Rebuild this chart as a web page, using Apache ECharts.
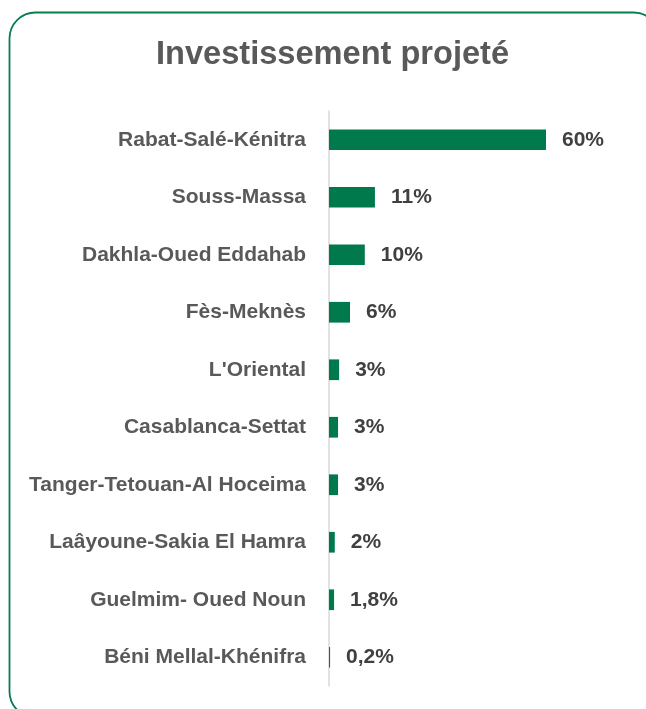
<!DOCTYPE html>
<html>
<head>
<meta charset="utf-8">
<style>
html,body{margin:0;padding:0;background:#fff;}
#chart{width:646px;height:709px;}
</style>
<script src="https://cdn.jsdelivr.net/npm/echarts@6/dist/echarts.min.js"></script>
</head>
<body>
<div id="chart"></div>
<script>
const titleText = 'Investissement projeté';
const categories = ['Rabat-Salé-Kénitra','Souss-Massa','Dakhla-Oued Eddahab','Fès-Meknès',"L'Oriental",'Casablanca-Settat','Tanger-Tetouan-Al Hoceima','Laâyoune-Sakia El Hamra','Guelmim- Oued Noun','Béni Mellal-Khénifra'];
const barValues = [60, 12.7, 9.9, 5.8, 2.8, 2.5, 2.5, 1.6, 1.4, 0.3];
const valueLabels = ['60%','11%','10%','6%','3%','3%','3%','2%','1,8%','0,2%'];

const chart = echarts.init(document.getElementById('chart'));
chart.setOption({
  animation: false,
  backgroundColor: '#fff',
  title: {
    text: titleText,
    left: 151,
    top: 34,
    padding: 5,
    textStyle: {fontFamily: 'Liberation Sans', fontWeight: 'bold', fontSize: 32.6, color: '#595959'}
  },
  graphic: [{
    type: 'rect',
    shape: {x: 9.5, y: 12.5, width: 650, height: 705, r: 26},
    style: {fill: 'none', stroke: '#0a7d4f', lineWidth: 1.8},
    silent: true,
    z: -1
  }],
  grid: {left: 329, top: 111, height: 575, width: 217, containLabel: false},
  xAxis: {
    type: 'value', min: 0, max: 60,
    show: false
  },
  yAxis: {
    type: 'category',
    data: categories,
    inverse: true,
    axisLine: {show: true, lineStyle: {color: '#d9d9d9', width: 1.5}},
    axisTick: {show: false},
    axisLabel: {
      margin: 23,
      fontFamily: 'Liberation Sans', fontWeight: 'bold', fontSize: 21, color: '#595959'
    }
  },
  series: [{
    type: 'bar',
    data: barValues,
    barCategoryGap: '64%',
    itemStyle: {color: '#007a4d'},
    label: {
      show: true,
      position: 'right',
      distance: 16,
      formatter: p => valueLabels[p.dataIndex],
      fontFamily: 'Liberation Sans', fontWeight: 'bold', fontSize: 21, color: '#404040'
    }
  }]
});
</script>
</body>
</html>
